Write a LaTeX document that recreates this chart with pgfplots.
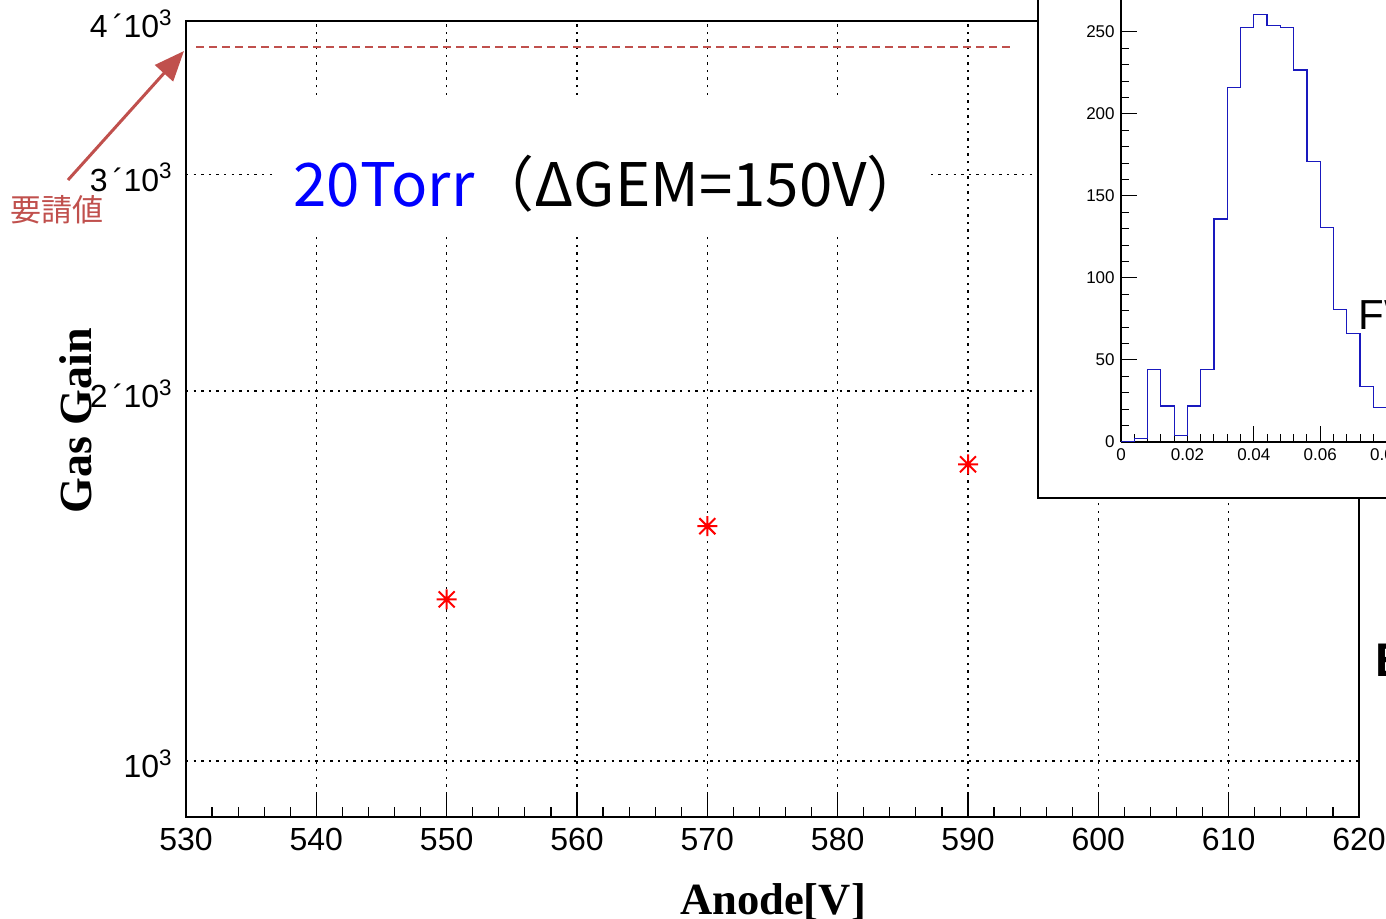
\documentclass[border=0pt]{standalone}
\usepackage{pgfplots}
\pgfplotsset{compat=1.18}
\usepackage{fontspec}
\setmainfont{Liberation Sans}
\newfontfamily\timesf{Liberation Serif}
\newfontfamily\jp{Noto Sans CJK JP}
\usetikzlibrary{arrows.meta}
\definecolor{annred}{RGB}{192,80,77}
\definecolor{histblue}{RGB}{25,25,190}
\pgfdeclareplotmark{rootstar}{%
  \pgfpathmoveto{\pgfqpoint{-\pgfplotmarksize}{0pt}}\pgfpathlineto{\pgfqpoint{\pgfplotmarksize}{0pt}}%
  \pgfpathmoveto{\pgfqpoint{0pt}{-\pgfplotmarksize}}\pgfpathlineto{\pgfqpoint{0pt}{\pgfplotmarksize}}%
  \pgfpathmoveto{\pgfqpoint{-0.8\pgfplotmarksize}{-0.8\pgfplotmarksize}}\pgfpathlineto{\pgfqpoint{0.8\pgfplotmarksize}{0.8\pgfplotmarksize}}%
  \pgfpathmoveto{\pgfqpoint{-0.8\pgfplotmarksize}{0.8\pgfplotmarksize}}\pgfpathlineto{\pgfqpoint{0.8\pgfplotmarksize}{-0.8\pgfplotmarksize}}%
  \pgfusepathqstroke}
\begin{document}
\begin{tikzpicture}
\path[use as bounding box] (0pt,0pt) rectangle (693pt,459.5pt);
\clip (0pt,0pt) rectangle (693pt,459.5pt);
% main axis
\begin{axis}[
  at={(93pt,51pt)}, anchor=south west,
  scale only axis, width=586.5pt, height=398pt,
  xmin=530, xmax=620, ymode=log, ymin=900, ymax=4000,
  xtick={530,540,...,620}, minor x tick num=4,
  xtick pos=bottom, ytick pos=left,
  major tick length=12.5pt, minor tick length=5pt,
  ytick={1000,2000,3000,4000},
  yticklabels={10\textsuperscript{3},2\,´10\textsuperscript{3},3\,´10\textsuperscript{3},4\,´10\textsuperscript{3}},
  yminorticks=false,
  ytick style={draw=none},
  xtick style={black, line width=0.6pt},
  grid=major,
  major grid style={black, line width=0.8pt, dash pattern=on 1.2pt off 2.6pt},
  axis line style={line width=1pt},
  /pgf/number format/assume math mode=true,
  /pgf/number format/1000 sep={},
  tick label style={font=\fontsize{16}{18}\selectfont},
  xticklabel style={inner sep=0pt, yshift=-5.5pt},
  yticklabel style={inner sep=0pt, xshift=-6.5pt, yshift=-1.5pt},
]
\addplot[annred, line width=1pt, dash pattern=on 4pt off 2.5pt] coordinates {(530.77,3810) (593.2,3810)};
\addplot[only marks, red, mark=rootstar, mark size=5pt, line width=1pt] coordinates {(550,1353) (570,1552) (590,1743)};
\draw[line width=0.8pt] (axis cs:530,1000) -- ++(18pt,0);
\draw[line width=0.8pt] (axis cs:530,2000) -- ++(8.5pt,0);
\draw[line width=0.8pt] (axis cs:530,3000) -- ++(8.5pt,0);
\draw[line width=0.8pt] (axis cs:530,4000) -- ++(8.5pt,0);
\end{axis}
\begin{scope}[x=0.5pt,y=0.5pt]
% white box behind annotation text
\fill[white] (272,687) rectangle (930,822);
\node[anchor=base west, inner sep=0pt, font=\jp\fontsize{30}{34}\selectfont] at (293,712) {\textcolor{blue}{20Torr}（ΔGEM=150V）};
% arrow and label
\draw[annred, line width=1.5pt, -{Triangle[length=15pt,width=12pt]}] (68,739) -- (184,868);
\node[annred, font=\jp\fontsize{15.5}{17}\selectfont, inner sep=0pt] at (57,709) {要請値};
% axis titles
\node[anchor=base, inner sep=0pt, font=\timesf\bfseries\fontsize{22.3}{24}\selectfont] at (773,4) {Anode[V]};
\node[anchor=base, rotate=90, inner sep=0pt, font=\timesf\bfseries\fontsize{23}{25}\selectfont] at (92,498) {Gas Gain};
\node[anchor=base west, inner sep=0pt, font=\bfseries\fontsize{23.6}{26}\selectfont] at (1375,242) {E};
% inset frame
\filldraw[fill=white, draw=black, line width=1pt] (1038,421) rectangle (1420,960);
\end{scope}
% inset histogram
\begin{axis}[
  at={(560.5pt,238.5pt)}, anchor=south west,
  scale only axis, width=166pt, height=237.8pt,
  xmin=0, xmax=0.1, ymin=0, ymax=290,
  axis x line=bottom, axis y line=left,
  axis line style={-, line width=0.6pt},
  xtick={0,0.02,0.04,0.06,0.08}, xticklabels={0,0.02,0.04,0.06,0.08},
  ytick={0,50,100,150,200,250},
  minor x tick num=4, minor y tick num=4,
  major tick length=8pt, minor tick length=4pt,
  tick style={black, line width=0.5pt},
  tick align=inside,
  /pgf/number format/assume math mode=true,
  tick label style={font=\fontsize{8.5}{10}\selectfont},
  xticklabel style={inner sep=0pt, yshift=-3pt},
  yticklabel style={inner sep=0pt, xshift=-3pt},
]
\addplot[histblue, line width=0.6pt, const plot mark left] coordinates {
(0,0) (0.004,2) (0.008,44) (0.012,22) (0.016,4) (0.020,22) (0.024,44) (0.028,136)
(0.032,216) (0.036,252.6) (0.040,260.8) (0.044,254) (0.048,252.6) (0.052,226.8)
(0.056,171) (0.060,131) (0.064,80.7) (0.068,66) (0.072,34) (0.076,21) (0.080,12)
(0.084,6) (0.088,3) (0.092,1) (0.096,0) (0.1,0)};
\end{axis}
\begin{scope}[x=0.5pt,y=0.5pt]
\node[anchor=base west, inner sep=0pt, font=\fontsize{21}{24}\selectfont] at (1358,589) {FWHM};
\end{scope}
\end{tikzpicture}
\end{document}
